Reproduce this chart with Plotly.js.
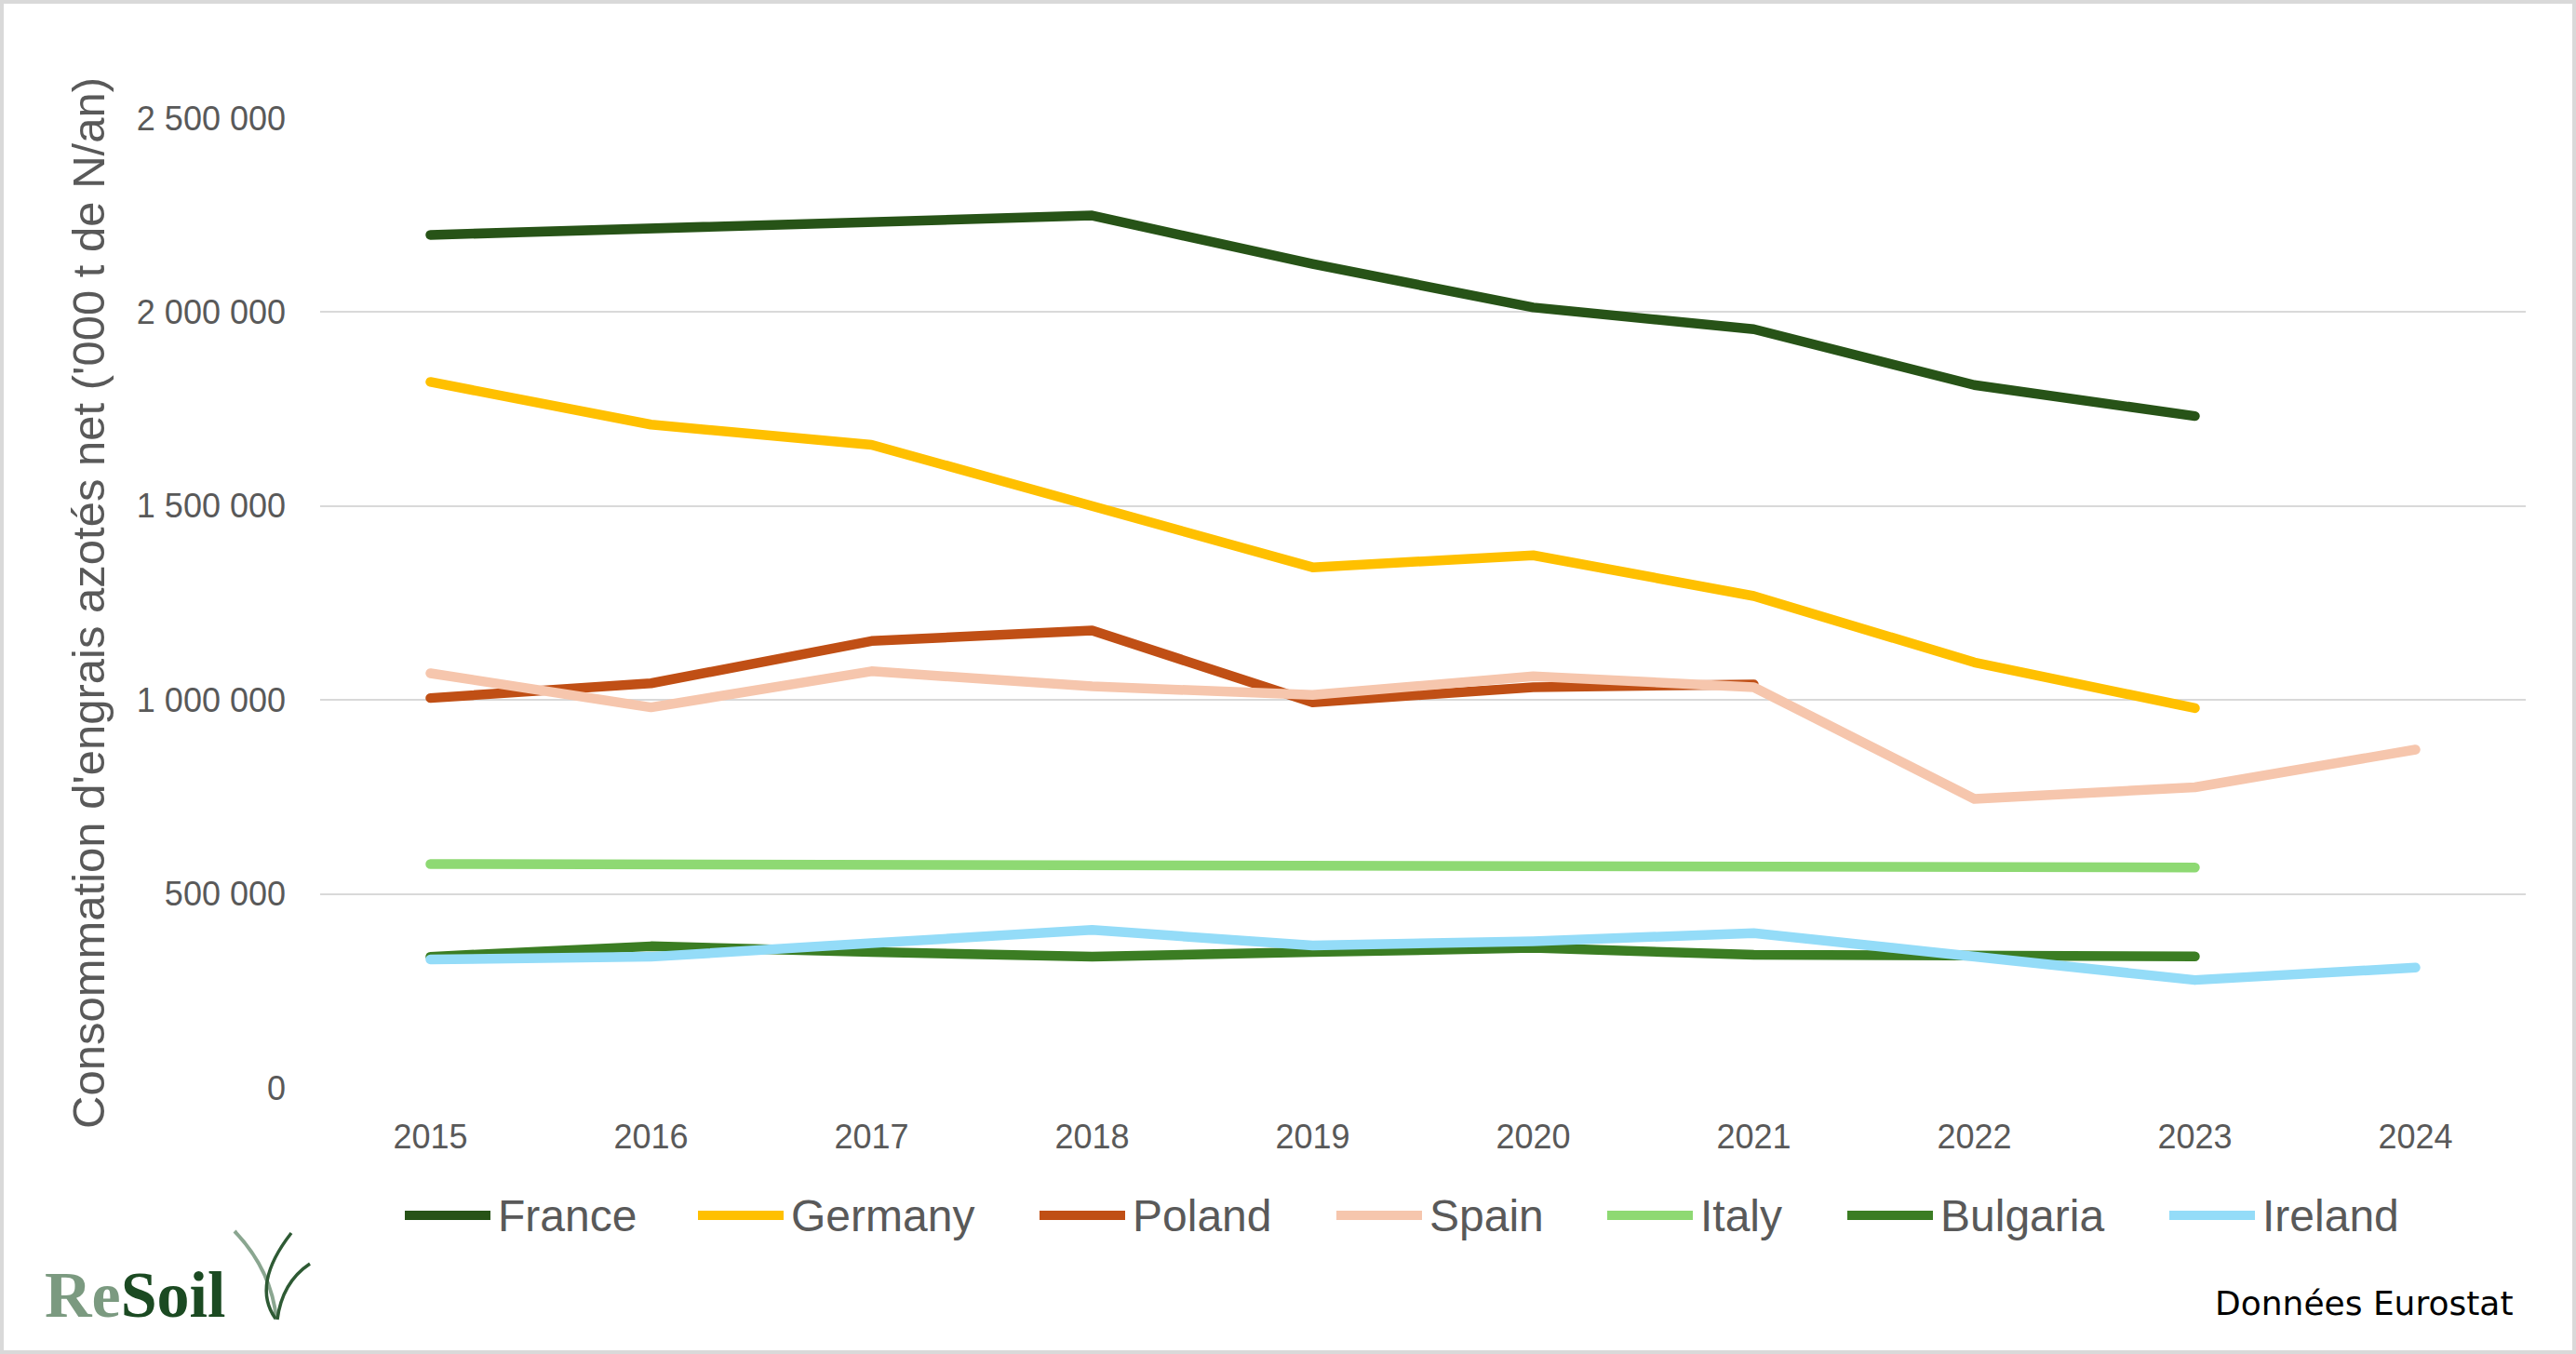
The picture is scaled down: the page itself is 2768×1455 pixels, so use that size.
<!DOCTYPE html>
<html>
<head>
<meta charset="utf-8">
<script src="https://cdn.plot.ly/plotly-3.0.1.min.js"></script>
<style>
html,body{margin:0;padding:0;background:#fff;}
#chart{width:2768px;height:1455px;}
.scatterlayer .js-line{stroke-linecap:round !important;stroke-linejoin:round !important;}
</style>
</head>
<body>
<div id="chart"></div>
<script>
// ---- data ----
const years = ['2015','2016','2017','2018','2019','2020','2021','2022','2023','2024'];
const seriesNames = ['France','Germany','Poland','Spain','Italy','Bulgaria','Ireland'];
const france   = [2199000, 2215000, 2231000, 2249000, 2124000, 2012000, 1956000, 1812000, 1732000];
const germany  = [1820000, 1710000, 1658000, 1497000, 1342000, 1373000, 1268000, 1097000, 979000];
const poland   = [1005000, 1043000, 1152000, 1179000, 994000, 1033000, 1040000];
const spain    = [1069000, 981000, 1074000, 1035000, 1013000, 1061000, 1033000, 745000, 775000, 872000];
const italy    = [577000, 576000, 574000, 574000, 572000, 572000, 570000, 568000, 568000];
const bulgaria = [338000, 365000, 350000, 338000, 350000, 361000, 343000, 342000, 339000];
const ireland  = [331000, 338000, 373000, 407000, 367000, 378000, 399000, 339000, 278000, 310000];
const yTicks   = [0, 500000, 1000000, 1500000, 2000000, 2500000];

const seriesValues = [france, germany, poland, spain, italy, bulgaria, ireland];
const seriesColors = ['#275317', '#FFC000', '#C04F15', '#F6C6AD', '#8ED973', '#3B7D23', '#94DCF8'];

// ---- layout geometry (pixels) ----
const W = 2768, H = 1455;
const M = {l: 344, r: 54, t: 127, b: 286};
const PW = W - M.l - M.r, PH = H - M.t - M.b;
const px = x => (x - M.l) / PW;
const py = y => (H - M.b - y) / PH;

const traces = seriesNames.map((name, i) => ({
  type: 'scatter',
  mode: 'lines',
  name: name,
  x: years.slice(0, seriesValues[i].length),
  y: seriesValues[i],
  line: {color: seriesColors[i], width: 10.5},
  showlegend: false,
  hoverinfo: 'x+y+name'
}));

// custom legend (long line samples as in the reference)
const legendStarts = [433, 748, 1115, 1434, 1725, 1983, 2329];
const legendY = 1306;
const shapes = [];
const annotations = [];
seriesNames.forEach((name, i) => {
  const x0 = legendStarts[i];
  shapes.push({type: 'line', xref: 'paper', yref: 'paper',
    x0: px(x0 + 2), x1: px(x0 + 94), y0: py(legendY), y1: py(legendY),
    line: {color: seriesColors[i], width: 10}});
  annotations.push({xref: 'paper', yref: 'paper', x: px(x0 + 100), y: py(legendY),
    xanchor: 'left', yanchor: 'middle', showarrow: false, text: name,
    font: {family: 'Liberation Sans, Arial, sans-serif', size: 48, color: '#595959'}});
});

// source note
annotations.push({xref: 'paper', yref: 'paper', x: px(2703), y: py(1400),
  xanchor: 'right', yanchor: 'middle', showarrow: false, text: 'Données Eurostat',
  font: {family: 'DejaVu Sans, Verdana, sans-serif', size: 36, color: '#000000'}});

// logo text
annotations.push({xref: 'paper', yref: 'paper', x: px(46), y: py(1391),
  xanchor: 'left', yanchor: 'middle', showarrow: false,
  text: '<b><span style="color:#7B9A80">Re</span><span style="color:#1B4A22">Soil</span></b>',
  font: {family: 'Liberation Serif, DejaVu Serif, serif', size: 70, color: '#1B4A22'}});

// logo grass blades
const P = (x, y) => px(x) + ',' + py(y);
shapes.push({type: 'path', xref: 'paper', yref: 'paper',
  path: 'M' + P(252, 1323) + ' Q' + P(292, 1365) + ' ' + P(297, 1418),
  line: {color: '#8AA690', width: 4}});
shapes.push({type: 'path', xref: 'paper', yref: 'paper',
  path: 'M' + P(313, 1325) + ' Q' + P(270, 1380) + ' ' + P(296, 1417),
  line: {color: '#2E5A34', width: 3.5}});
shapes.push({type: 'path', xref: 'paper', yref: 'paper',
  path: 'M' + P(333, 1358) + ' Q' + P(303, 1378) + ' ' + P(298, 1418),
  line: {color: '#2E5A34', width: 3.5}});

// outer border
shapes.push({type: 'rect', xref: 'paper', yref: 'paper',
  x0: px(2), x1: px(W - 2), y0: py(H - 2), y1: py(2),
  line: {color: '#D9D9D9', width: 4}, fillcolor: 'rgba(0,0,0,0)'});

const layout = {
  width: W, height: H,
  margin: M,
  paper_bgcolor: '#FFFFFF',
  plot_bgcolor: '#FFFFFF',
  separators: ', ',
  showlegend: false,
  font: {family: 'Liberation Sans, Arial, sans-serif', color: '#595959'},
  xaxis: {
    type: 'category',
    categoryorder: 'array', categoryarray: years,
    range: [-0.5, years.length - 0.5],
    showgrid: false, zeroline: false, showline: false,
    ticks: '', ticklabelstandoff: 28,
    tickfont: {family: 'Liberation Sans, Arial, sans-serif', size: 36, color: '#595959'}
  },
  yaxis: {
    range: [0, 2500000],
    tickvals: yTicks,
    tickformat: ',d',
    showgrid: true, gridcolor: '#D9D9D9', gridwidth: 2,
    zeroline: false, showline: false,
    ticks: '', ticklabelstandoff: 36,
    tickfont: {family: 'Liberation Sans, Arial, sans-serif', size: 36, color: '#595959'},
    title: {text: "Consommation d'engrais azotés net ('000 t de N/an)", standoff: 18,
      font: {family: 'Liberation Sans, Arial, sans-serif', size: 49, color: '#595959'}}
  },
  shapes: shapes,
  annotations: annotations
};

Plotly.newPlot('chart', traces, layout, {displayModeBar: false, responsive: false});
</script>
</body>
</html>
